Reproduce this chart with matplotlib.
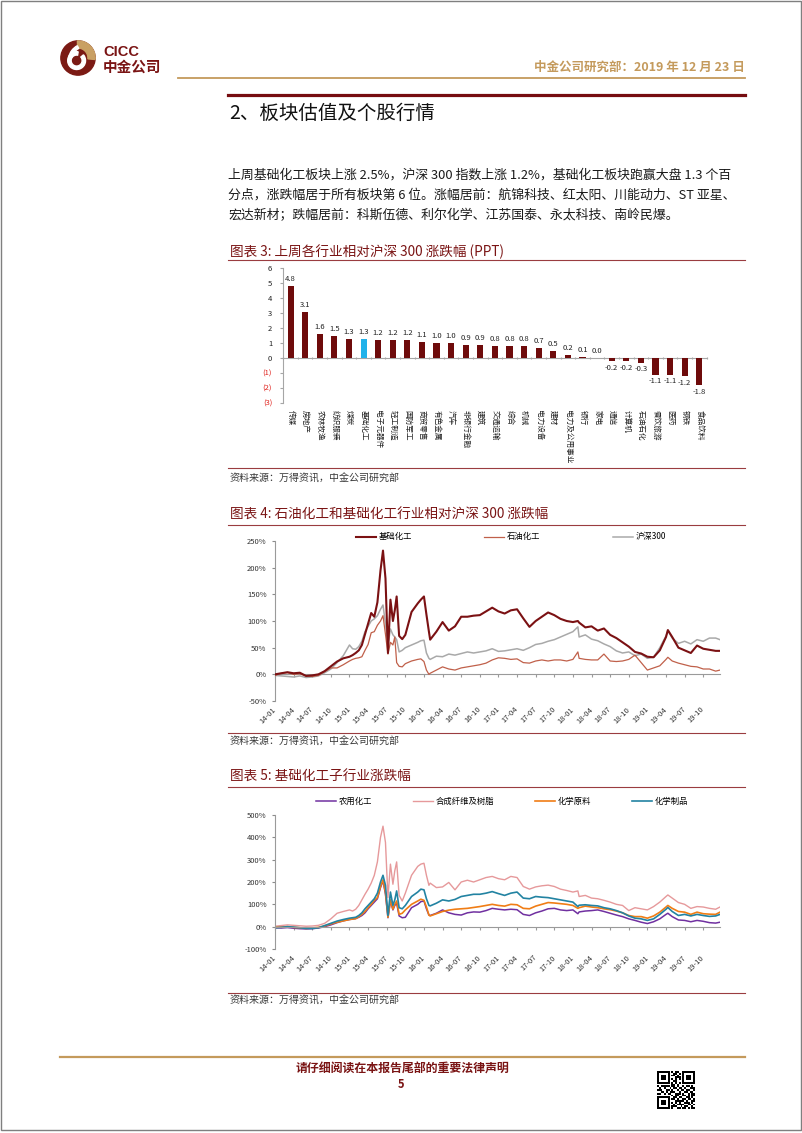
import matplotlib
matplotlib.use("Agg")
import matplotlib.pyplot as plt
import matplotlib.patches as mpatches
from matplotlib.lines import Line2D
import numpy as np

W, H = 802, 1133

# ---------------- data: 图表 3 ----------------
industries = ["传媒", "房地产", "农林牧渔", "纺织服装", "煤炭", "基础化工", "电子元器件", "轻工制造",
              "国防军工", "商贸零售", "有色金属", "汽车", "非银行金融", "建筑", "交通运输", "综合",
              "机械", "电力设备", "建材", "电力及公用事业", "银行", "家电", "通信", "计算机",
              "石油石化", "餐饮旅游", "医药", "钢铁", "食品饮料"]
rel_chg = [4.8, 3.1, 1.6, 1.5, 1.3, 1.3, 1.2, 1.2, 1.2, 1.1, 1.0, 1.0, 0.9, 0.9, 0.8, 0.8,
           0.8, 0.7, 0.5, 0.2, 0.1, 0.0, -0.2, -0.2, -0.3, -1.1, -1.1, -1.2, -1.8]
highlight = "基础化工"
bar_yticks = [6, 5, 4, 3, 2, 1, 0, -1, -2, -3]
bar_ylabels = ["6", "5", "4", "3", "2", "1", "0", "(1)", "(2)", "(3)"]

# ---------------- data: 图表 4 / 5 (months since 2014-01) ----------------
months = [0, 1, 2, 3, 4, 5, 6, 7, 8, 9, 10, 11, 12,
          12.5, 13, 13.5, 14, 14.5, 15, 15.5, 16, 16.5, 17,
          17.4, 17.8, 18.2, 18.6, 19, 19.3, 19.6, 20, 20.5, 21,
          22, 23, 23.5, 24, 24.4, 24.8, 25,
          26, 27, 28, 29, 30, 31, 32, 33, 34, 35, 36, 37, 38, 39, 40, 41, 42, 43, 44, 45, 46, 47, 48,
          48.8,
          49, 50, 51, 52, 53, 54, 55, 56, 57, 58, 59, 60, 61, 62, 63,
          63.3,
          64, 65, 66, 67, 68, 69, 70, 71,
          71.7]

jichu = [0, 2, 4, 2, 3, -3, -2, 0, 6, 15, 24, 30, 33,
         36, 40, 45, 55, 75, 95, 115, 108, 135, 195,
         232, 180, 40, 140, 100, 120, 146, 72, 66, 74,
         117, 133, 140, 146, 112, 80, 65,
         80, 98, 82, 90, 108, 108, 110, 111, 118, 125, 118, 114, 120, 122, 105, 89, 100, 108, 116, 111, 104, 100, 98,
         100,
         97, 88, 90, 82, 86, 74, 68, 60, 52, 42, 39, 33, 32, 45, 70,
         83,
         70, 50, 45, 40, 54, 48, 46, 44,
         44]
shiyou = [-2, 2, 3, 0, 1, -3, -4, -2, 5, 12, 12, 18, 25,
          28, 30, 31, 33, 45, 56, 78, 80, 92, 100,
          110, 75, 38, 60, 55, 70, 22, 15, 14, 20,
          25, 28, 29, 24, 8, 0, 2,
          8, 14, 10, 8, 12, 14, 16, 18, 21, 27, 31, 30, 28, 29, 22, 21, 25, 27, 25, 27, 27, 25, 28,
          42,
          30, 28, 27, 27, 38, 25, 24, 25, 28, 36, 22, 8, 12, 16, 28,
          32,
          25, 21, 18, 15, 14, 10, 10, 6,
          8]
hs300 = [-2, -3, -4, -5, -3, -6, -5, -3, 3, 10, 22, 35, 55,
         48, 47, 52, 62, 80, 90, 100, 104, 110, 122,
         130, 95, 55, 85, 74, 70, 65, 42, 45, 50,
         55, 60, 63, 64, 40, 30, 28,
         34, 33, 38, 36, 39, 42, 40, 42, 44, 48, 43, 44, 46, 48, 45, 50, 56, 58, 62, 65, 70, 75, 80,
         89,
         70, 74, 66, 63, 57, 52, 44, 40, 42, 35, 38, 30, 32, 50, 72,
         82,
         68, 58, 62, 57, 65, 62, 68, 68,
         65]

nongyong = [-5, -6, -4, -7, -9, -10, -9, -6, 0, 8, 18, 26, 32,
            34, 36, 42, 50, 62, 80, 95, 110, 125, 175,
            205, 145, 40, 115, 75, 95, 105, 48, 40, 42,
            85, 100, 112, 115, 80, 52, 50,
            60, 75, 62, 55, 52, 62, 66, 65, 72, 82, 78, 75, 78, 76, 55, 50, 62, 70, 80, 82, 75, 72, 75,
            58,
            66, 70, 72, 75, 68, 60, 52, 45, 35, 28, 20, 14, 22, 35, 55,
            60,
            45, 30, 28, 22, 28, 24, 18, 16,
            20]
hecheng = [2, 5, 8, 6, 4, 2, 3, 6, 15, 35, 60, 68, 75,
           70, 78, 95, 120, 145, 168, 195, 230, 290, 400,
           450, 377, 130, 280, 190, 250, 290, 140, 115, 150,
           230, 270, 280, 284, 230, 185, 195,
           175, 178, 198, 165, 200, 208, 200, 210, 220, 225, 215, 210, 225, 220, 180, 168, 178, 183, 186, 180, 168, 162, 155,
           160,
           135, 140, 128, 125, 118, 110, 100, 95, 72, 85, 80, 75, 90, 110, 135,
           142,
           128, 108, 100, 82, 90, 88, 82, 78,
           88]
yuanliao = [-3, -2, 0, -3, -5, -8, -6, -3, 3, 12, 20, 26, 32,
            34, 36, 45, 55, 68, 85, 100, 118, 130, 180,
            210, 153, 42, 120, 78, 100, 115, 55, 60, 75,
            100, 115, 123, 118, 88, 52, 48,
            58, 68, 74, 78, 80, 82, 86, 90, 95, 100, 95, 92, 100, 98, 82, 80, 92, 100, 108, 106, 103, 100, 95,
            82,
            85, 92, 88, 85, 80, 76, 70, 62, 50, 45, 45, 38, 48, 65, 88,
            95,
            82, 68, 65, 55, 65, 58, 56, 55,
            65]
zhipin = [-5, -3, 0, -2, -5, -8, -8, -5, 5, 15, 25, 32, 38,
          40, 42, 50, 62, 80, 95, 110, 125, 150, 200,
          230, 185, 50, 155, 95, 120, 160, 85, 80, 95,
          135, 155, 168, 165, 125, 95, 93,
          105, 120, 115, 122, 135, 140, 145, 145, 150, 157, 148, 140, 150, 155, 128, 125, 135, 132, 130, 125, 120, 115, 110,
          90,
          96, 98, 95, 93, 85, 80, 72, 62, 48, 38, 35, 28, 35, 55, 78,
          86,
          68, 50, 55, 48, 55, 50, 46, 48,
          55]

date_labels = ["14-01", "14-04", "14-07", "14-10", "15-01", "15-04", "15-07", "15-10",
               "16-01", "16-04", "16-07", "16-10", "17-01", "17-04", "17-07", "17-10",
               "18-01", "18-04", "18-07", "18-10", "19-01", "19-04", "19-07", "19-10"]

para = ["上周基础化工板块上涨 2.5%，沪深 300 指数上涨 1.2%，基础化工板块跑赢大盘 1.3 个百",
        "分点，涨跌幅居于所有板块第 6 位。涨幅居前：航锦科技、红太阳、川能动力、ST 亚星、",
        "宏达新材；跌幅居前：科斯伍德、利尔化学、江苏国泰、永太科技、南岭民爆。"]

qr_rows = ["111111101011001111111", "100000100110101000001", "101110101101001011101",
           "101110100011101011101", "101110101010101011101", "100000100110001000001",
           "111111101010101111111", "000000001101000000000", "101111101101001011010",
           "010010010110110100111", "111001101001011011001", "001101011100100110110",
           "110010110011101001011", "000000001011001101011", "111111100110110011010",
           "100000101101001101101", "101110100011111010011", "101110101010100111010",
           "101110100101111001101", "100000101110010110010", "111111101001101101011"]

# ---------------- style ----------------
DARK = "#7a1414"
TAN = "#c49a5c"
LINE_RED = "#9a3c40"
BAR = "#6e0b0b"
BLUE = "#21b2ea"
NEG = "#e0241f"
TXT = "#3a3a3a"
SRC = "资料来源：万得资讯，中金公司研究部"

plt.rcParams["font.family"] = ["Noto Sans CJK SC", "DejaVu Sans"]
plt.rcParams["axes.unicode_minus"] = False

fig = plt.figure(figsize=(W / 100, H / 100), dpi=100)


def fx(x):
    return x / W


def fy(y):
    return 1 - y / H


def hline(y, x0, x1, color, lw):
    fig.add_artist(Line2D([fx(x0), fx(x1)], [fy(y), fy(y)], color=color, lw=lw,
                          transform=fig.transFigure))


def px_axes(l, t, r, b):
    return fig.add_axes([fx(l), fy(b), (r - l) / W, (b - t) / H])


# page frame
fig.add_artist(mpatches.Rectangle((fx(1), fy(1130)), fx(801) - fx(1), fy(1) - fy(1130),
                                  fill=False, edgecolor="#7f7f7f", lw=1.0,
                                  transform=fig.transFigure))

# ---------------- header ----------------
logo = px_axes(60, 40, 96, 76)
logo.set_xlim(-1.05, 1.05)
logo.set_ylim(-1.05, 1.05)
logo.axis("off")
logo.add_patch(mpatches.Circle((0, 0), 1, color="#7b1a14"))
logo.add_patch(mpatches.Wedge((0, 0), 1, -5, 92, width=0.42, color="#c9a063"))
logo.add_patch(mpatches.Wedge((-0.08, -0.15), 0.52, 80, 400, width=0.2, color="white"))
logo.add_patch(mpatches.Wedge((0.42, -0.15), 0.98, 118, 168, width=0.18, color="white"))

fig.text(fx(103), fy(52), "CICC", fontsize=10.5, fontweight="bold", color=DARK,
         family="Liberation Sans", va="center", ha="left")
fig.text(fx(103), fy(67), "中金公司", fontsize=10.5, fontweight="bold", color=DARK,
         va="center", ha="left")
fig.text(fx(745), fy(67), "中金公司研究部：2019 年 12 月 23 日", fontsize=9, color=TAN,
         fontweight="bold", va="center", ha="right")
hline(78, 178, 745, TAN, 1.3)
hline(95, 228, 745, "#760c10", 2.3)
fig.text(fx(229), fy(113), "2、板块估值及个股行情", fontsize=14, va="center", ha="left",
         color="#111111")

for i, s in enumerate(para):
    fig.text(fx(228), fy(175 + 20.5 * i), s, fontsize=9.3, va="center", ha="left",
             color="#1a1a1a")

# ---------------- 图表 3 ----------------
fig.text(fx(230), fy(252), "图表 3: 上周各行业相对沪深 300 涨跌幅 (PPT)", fontsize=9.8,
         style="italic", color=DARK, va="center")
hline(260, 228, 745, LINE_RED, 0.8)

ax3 = px_axes(283.3, 268, 706.6, 403)
x = np.arange(len(industries))
colors = [BLUE if n == highlight else BAR for n in industries]
ax3.bar(x, rel_chg, width=0.42, color=colors, zorder=3)
ax3.set_xlim(-0.5, len(industries) - 0.5)
ax3.set_ylim(-3, 6)
for s in ["top", "right"]:
    ax3.spines[s].set_visible(False)
ax3.spines["bottom"].set_position(("data", 0))
ax3.spines["bottom"].set_color("#a6a6a6")
ax3.spines["left"].set_color("#a6a6a6")
ax3.spines["bottom"].set_linewidth(0.8)
ax3.spines["left"].set_linewidth(0.8)
ax3.set_xticks(np.arange(-0.5, len(industries), 1))
ax3.set_xticklabels([])
ax3.tick_params(axis="x", length=2, direction="inout", color="#a6a6a6")
ax3.set_yticks(bar_yticks)
ax3.set_yticklabels(bar_ylabels)
ax3.tick_params(axis="y", length=2, labelsize=5.5, pad=6, color="#a6a6a6")
for lbl, t in zip(ax3.get_yticklabels(), bar_yticks):
    lbl.set_color(NEG if t < 0 else "#222222")
for i, (name, v) in enumerate(zip(industries, rel_chg)):
    ax3.text(i, -0.05, name, transform=ax3.get_xaxis_transform(), rotation=270,
             ha="center", va="top", fontsize=5.5, color="#222222")
    ax3.annotate(f"{v:.1f}", (i, v), xytext=(0, 2 if v >= 0 else -2),
                 textcoords="offset points", ha="center",
                 va="bottom" if v >= 0 else "top", fontsize=5.5, color="#222222")

hline(468, 228, 745, LINE_RED, 0.8)
fig.text(fx(230), fy(479), SRC, fontsize=7.2, style="italic", color=TXT, va="center")


# ---------------- time-series helper ----------------
def style_ts(ax, ylo, yhi, step, lab_off):
    ax.set_xlim(0, 71.7)
    ax.set_ylim(ylo, yhi)
    yt = list(range(ylo, yhi + 1, step))
    ax.set_yticks(yt)
    ax.set_yticklabels([f"{t}%" for t in yt])
    ax.tick_params(axis="y", length=2, labelsize=5.5, pad=4, color="#8c8c8c",
                   labelcolor="#333333")
    for s in ["top", "right"]:
        ax.spines[s].set_visible(False)
    ax.spines["bottom"].set_position(("data", 0))
    for s in ["bottom", "left"]:
        ax.spines[s].set_color("#9a9a9a")
        ax.spines[s].set_linewidth(0.8)
    ticks = [3 * i for i in range(len(date_labels))]
    ax.set_xticks(ticks)
    ax.set_xticklabels([])
    ax.tick_params(axis="x", length=2.5, direction="out", color="#9a9a9a")
    for t, lab in zip(ticks, date_labels):
        ax.text(t, lab_off, lab, transform=ax.get_xaxis_transform(), rotation=45,
                rotation_mode="anchor", ha="right", va="center", fontsize=5.5,
                color="#333333")


# ---------------- 图表 4 ----------------
fig.text(fx(230), fy(515), "图表 4: 石油化工和基础化工行业相对沪深 300 涨跌幅", fontsize=9.8,
         style="italic", color=DARK, va="center")
hline(525, 228, 745, LINE_RED, 0.8)

ax4 = px_axes(275, 541, 720, 701)
l1, = ax4.plot(months, jichu, color="#7b1113", lw=1.5, label="基础化工", zorder=4)
l2, = ax4.plot(months, shiyou, color="#c0604a", lw=0.9, label="石油化工", zorder=3)
l3, = ax4.plot(months, hs300, color="#a9a9a9", lw=1.1, label="沪深300", zorder=2)
style_ts(ax4, -50, 250, 50, -0.045)
ax4.legend(handles=[l1, l2, l3], ncol=3, frameon=False, loc="center",
           bbox_to_anchor=(0.530, 1.025), fontsize=6, handlelength=2.4,
           handletextpad=0.3, columnspacing=8.7, borderpad=0)

hline(733, 228, 745, LINE_RED, 0.8)
fig.text(fx(230), fy(742), SRC, fontsize=7.2, style="italic", color=TXT, va="center")

# ---------------- 图表 5 ----------------
fig.text(fx(230), fy(777), "图表 5: 基础化工子行业涨跌幅", fontsize=9.8,
         style="italic", color=DARK, va="center")
hline(787, 228, 745, LINE_RED, 0.8)

ax5 = px_axes(275, 815, 720, 949)
k1, = ax5.plot(months, nongyong, color="#7030a0", lw=1.1, label="农用化工")
k2, = ax5.plot(months, hecheng, color="#e6999b", lw=1.0, label="合成纤维及树脂")
k3, = ax5.plot(months, yuanliao, color="#f07d15", lw=1.2, label="化学原料")
k4, = ax5.plot(months, zhipin, color="#2283a2", lw=1.2, label="化学制品")
style_ts(ax5, -100, 500, 100, -0.055)
ax5.legend(handles=[k1, k2, k3, k4], ncol=4, frameon=False, loc="center",
           bbox_to_anchor=(0.510, 1.104), fontsize=6, handlelength=2.4,
           handletextpad=0.3, columnspacing=4.9, borderpad=0)

hline(993, 228, 745, LINE_RED, 0.8)
fig.text(fx(230), fy(1001), SRC, fontsize=7.2, style="italic", color=TXT, va="center")

# ---------------- footer ----------------
hline(1057, 60, 745, TAN, 1.6)
fig.text(fx(402), fy(1069), "请仔细阅读在本报告尾部的重要法律声明", fontsize=8.6,
         style="italic", fontweight="bold", color=DARK, ha="center", va="center")
fig.text(fx(401), fy(1085), "5", fontsize=8, style="italic", fontweight="bold",
         color=DARK, ha="center", va="center")

qr = np.array([[1 if c == "1" else 0 for c in r[:21].ljust(21, "0")] for r in qr_rows])
axq = px_axes(657, 1071, 695, 1109)
axq.imshow(qr, cmap="gray_r", interpolation="nearest")
axq.axis("off")

fig.savefig("out.png", dpi=100)
